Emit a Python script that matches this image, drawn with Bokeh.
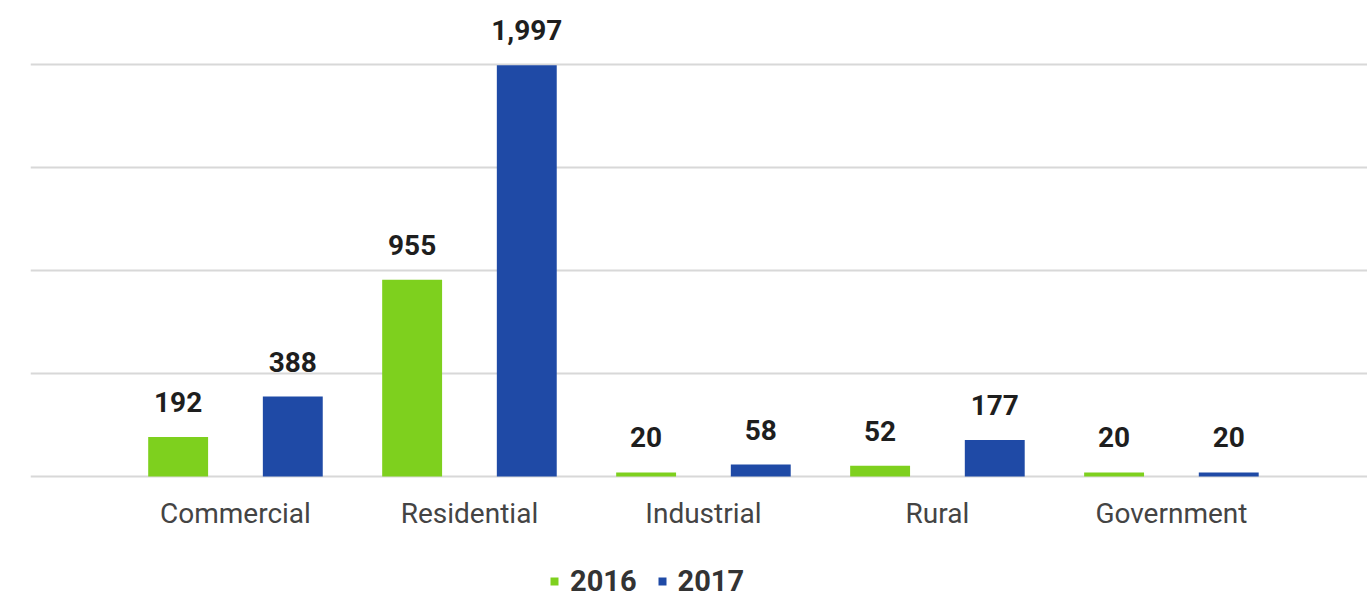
from bokeh.plotting import figure
from bokeh.models import ColumnDataSource, Range1d, FixedTicker, Legend, LegendItem, LabelSet
from bokeh.core.properties import value
from bokeh.embed import file_html
from bokeh.resources import INLINE

categories = ["Commercial", "Residential", "Industrial", "Rural", "Government"]
series_names = ["2016", "2017"]
values_2016 = [192, 955, 20, 52, 20]
values_2017 = [388, 1997, 58, 177, 20]
y_ticks = [0, 500, 1000, 1500, 2000]

colors = ["#7ed01e", "#1f4aa6"]
FONT = "Roboto"

centers = [i + 0.5 for i in range(len(categories))]
offset = 0.245
bar_w = 0.256

p = figure(frame_width=1337, frame_height=591, output_backend="svg", toolbar_location=None,
           x_range=Range1d(-0.376, 5.338), y_range=Range1d(-597, 2272),
           min_border_left=30, min_border_right=0, min_border_top=8, min_border_bottom=0)
p.outline_line_color = None
p.background_fill_color = "white"
p.border_fill_color = "white"

renderers = []
for vals, col, sgn in [(values_2016, colors[0], -1), (values_2017, colors[1], 1)]:
    src = ColumnDataSource(dict(x=[c + sgn * offset for c in centers], top=vals,
                                lab=[f"{v:,}" for v in vals]))
    r = p.vbar(x="x", top="top", width=bar_w, bottom=0, source=src,
               fill_color=col, line_color=None)
    renderers.append(r)
    p.add_layout(LabelSet(x="x", y="top", text="lab", source=src, text_align="center",
                          text_baseline="alphabetic", y_offset=25,
                          text_font=value(FONT), text_font_style="bold",
                          text_font_size="28px", text_color="#1e1e1e"))

p.yaxis.visible = False
p.ygrid.ticker = FixedTicker(ticks=y_ticks)
p.ygrid.grid_line_color = "#d8d8d8"
p.ygrid.grid_line_width = 2
p.xgrid.visible = False

p.xaxis.fixed_location = 0
p.xaxis.ticker = FixedTicker(ticks=centers)
p.xaxis.major_label_overrides = {c: name for c, name in zip(centers, categories)}
p.xaxis.axis_line_color = None
p.xaxis.major_tick_line_color = None
p.xaxis.minor_tick_line_color = None
p.xaxis.major_tick_in = 0
p.xaxis.major_tick_out = 0
p.xaxis.major_label_standoff = 20
p.xaxis.major_label_text_font = FONT
p.xaxis.major_label_text_font_size = "28px"
p.xaxis.major_label_text_color = "#444444"

legend = Legend(items=[LegendItem(label=n, renderers=[r]) for n, r in zip(series_names, renderers)],
                orientation="horizontal", location=(519, 1),
                label_text_font=FONT, label_text_font_style="bold", label_text_font_size="29px",
                label_text_color="#333333", glyph_width=10, glyph_height=10,
                label_standoff=11, spacing=20, padding=0, margin=0,
                border_line_color=None, background_fill_alpha=0)
p.add_layout(legend, "center")

open("out.html", "w").write(file_html(p, INLINE))
